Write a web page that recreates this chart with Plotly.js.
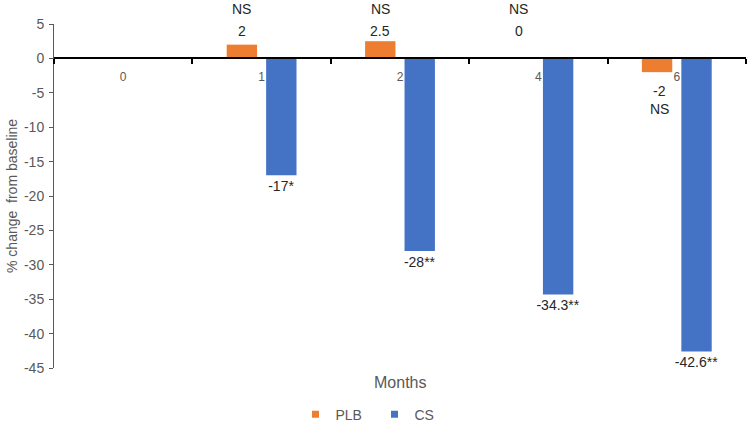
<!DOCTYPE html>
<html>
<head>
<meta charset="utf-8">
<script src="https://cdn.plot.ly/plotly-3.0.1.min.js"></script>
<style>html,body{margin:0;padding:0;background:#fff;}#chart{width:749px;height:424px;}</style>
</head>
<body>
<div id="chart"></div>
<script>
var months = ["0", "1", "2", "4", "6"];
var plbValues = [null, 2, 2.5, 0, -2];
var csValues = [null, -17, -28, -34.3, -42.6];
var plbSig = ["", "NS", "NS", "NS", "NS"];
var csLabels = ["", "-17*", "-28**", "-34.3**", "-42.6**"];
var seriesNames = ["PLB", "CS"];
var seriesColors = ["#ED7D31", "#4472C4"];
var yTicks = [5, 0, -5, -10, -15, -20, -25, -30, -35, -40, -45];

var FONT = "Liberation Sans, Arial, sans-serif";
var GRAY = "#595959";
var LABEL = "#262626";

var traces = [
  {
    type: "bar", name: seriesNames[0], x: months, y: plbValues, showlegend: false,
    marker: {color: seriesColors[0]}, hoverinfo: "skip"
  },
  {
    type: "bar", name: seriesNames[1], x: months, y: csValues, showlegend: false,
    marker: {color: seriesColors[1]}, hoverinfo: "skip",
    text: csLabels, textposition: "outside", cliponaxis: false, constraintext: "none",
    textfont: {family: FONT, size: 14, color: LABEL}
  }
];
// legend entries with small square keys
for (var s = 0; s < seriesNames.length; s++) {
  traces.push({type: "scatter", mode: "markers", name: seriesNames[s], x: [null], y: [null],
    marker: {symbol: "square", size: 7, color: seriesColors[s]}, hoverinfo: "skip"});
}

var annotations = [];
var half = 19.75;
for (var i = 0; i < months.length; i++) {
  var v = plbValues[i];
  if (v === null) continue;
  if (v >= 0) {
    annotations.push({xref: "x", yref: "y", x: i, y: 4, xshift: -half, yanchor: "middle",
      text: String(v), showarrow: false, font: {family: FONT, size: 14, color: LABEL}});
    annotations.push({xref: "x", yref: "y", x: i, y: 4, xshift: -half, yshift: 22, yanchor: "middle",
      text: plbSig[i], showarrow: false, font: {family: FONT, size: 14, color: LABEL}});
  } else {
    annotations.push({xref: "x", yref: "y", x: i, y: v, xshift: -half + 2, yshift: -19, yanchor: "middle",
      text: String(v), showarrow: false, font: {family: FONT, size: 14, color: LABEL}});
    annotations.push({xref: "x", yref: "y", x: i, y: v, xshift: -half + 2, yshift: -37, yanchor: "middle",
      text: plbSig[i], showarrow: false, font: {family: FONT, size: 14, color: LABEL}});
  }
}
annotations.push({xref: "paper", yref: "paper", x: 0.5, y: -0.0407, xanchor: "center", yanchor: "middle",
  text: "Months", showarrow: false, font: {family: FONT, size: 16, color: GRAY}});
annotations.push({xref: "paper", yref: "paper", x: -0.0607, y: 0.5, xanchor: "center", yanchor: "middle",
  textangle: -90, text: "% change \u00a0from baseline", showarrow: false, font: {family: FONT, size: 14, color: GRAY}});

var layout = {
  width: 749, height: 424,
  margin: {l: 54, r: 3, t: 24, b: 56},
  paper_bgcolor: "#fff", plot_bgcolor: "#fff",
  barmode: "group", bargap: 0.43, bargroupgap: 0.23,
  font: {family: FONT, color: GRAY},
  showlegend: true,
  legend: {orientation: "h", xref: "container", yref: "container", x: 0.5, xanchor: "center",
    y: 0.022, yanchor: "middle", itemwidth: 30, entrywidth: 34, entrywidthmode: "pixels",
    font: {family: FONT, size: 14, color: GRAY}, traceorder: "normal"},
  xaxis: {
    type: "category", categoryorder: "array", categoryarray: months,
    range: [-0.5, months.length - 0.5],
    anchor: "free", position: 0.9,
    showline: true, linecolor: "#000", linewidth: 2,
    ticks: "outside", tickson: "boundaries", ticklen: 5, tickwidth: 2, tickcolor: "#000",
    ticklabelstandoff: 7,
    tickfont: {family: FONT, size: 12, color: GRAY},
    showgrid: false, zeroline: false, fixedrange: true
  },
  yaxis: {
    range: [-45, 5], tickvals: yTicks, ticktext: yTicks.map(String),
    showline: true, linecolor: GRAY, linewidth: 1,
    ticks: "outside", ticklen: 4, tickcolor: GRAY, ticklabelstandoff: 2,
    tickfont: {family: FONT, size: 14, color: GRAY},
    showgrid: false, zeroline: false, fixedrange: true
  },
  annotations: annotations
};

Plotly.newPlot("chart", traces, layout, {staticPlot: true, displayModeBar: false});
</script>
</body>
</html>
